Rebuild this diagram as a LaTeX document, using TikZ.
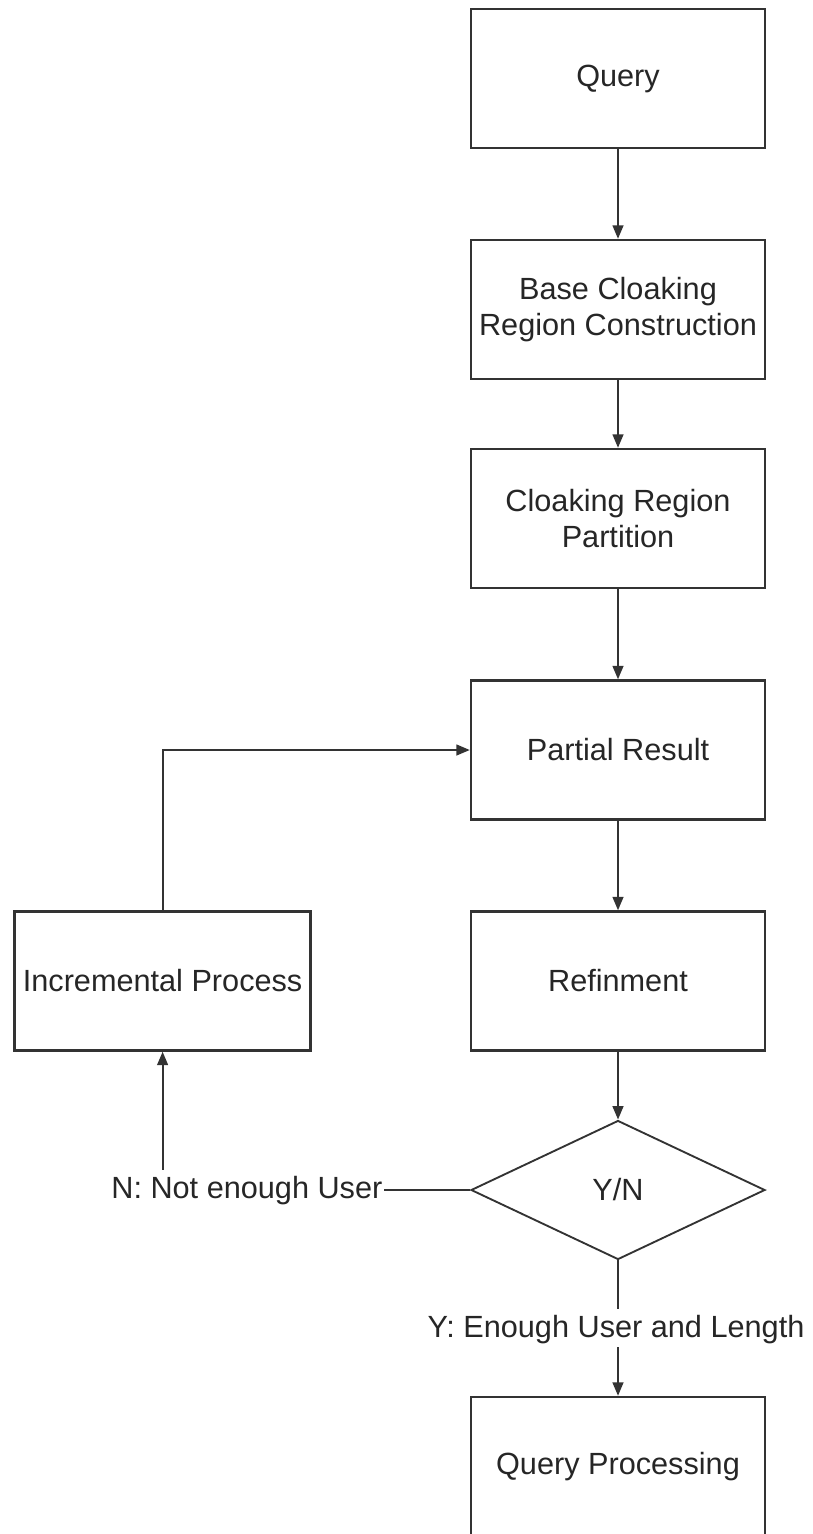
\documentclass[tikz,border=0pt]{standalone}
\usepackage{fontspec}
\setmainfont{Liberation Sans}
\usetikzlibrary{arrows.meta,shapes.geometric}
\begin{document}
\begin{tikzpicture}[x=0.75pt,y=-0.75pt,
  every node/.style={font=\fontsize{23}{27.5}\selectfont, text=black!85},
  stepbox/.style={draw=black!80, line width=1.8pt, minimum width=220.5pt,
    minimum height=104.25pt, inner sep=0pt, align=center},
  decide/.style={draw=black!80, line width=1.4pt, diamond, minimum width=220.5pt,
    minimum height=104.25pt, inner sep=0pt},
  lbl/.style={text height=16.5pt, text depth=1.75pt, inner ysep=5pt, inner xsep=1pt},
  link/.style={draw=black!80, line width=1.5pt},
  arr/.style={link, -{Triangle[length=10pt,width=8pt]}}]
\useasboundingbox (0,0) rectangle (813,1534);

% main column
\node[stepbox] (query)   at (618,78.5)  {Query};
\node[stepbox] (base)    at (618,309.5) {Base Cloaking\\Region Construction};
\node[stepbox] (part)    at (618,518.5) {Cloaking Region\\Partition};
\node[stepbox] (partial) at (618,750)   {Partial Result};
\node[stepbox] (refine)  at (618,981)   {Refinment};
\node[decide]  (yn)      at (618,1190)  {Y/N};
\node[stepbox] (qp)      at (618,1466.5){Query Processing};

% side loop
\node[stepbox, minimum width=222pt] (inc) at (162.6,981) {Incremental Process};

% branch labels
\node[lbl, anchor=east] (nlab) at (384,1189) {N: Not enough User};
\node[lbl] (ylab) at (616,1328) {Y: Enough User and Length};

% connectors
\draw[arr] (query) -- (base);
\draw[arr] (base) -- (part);
\draw[arr] (part) -- (partial);
\draw[arr] (partial) -- (refine);
\draw[arr] (refine) -- (yn);
\draw[link] (yn.west) -- (yn.west -| nlab.east);
\draw[arr] (nlab.north -| inc.south) -- (inc.south);
\draw[arr] (inc.north) |- (partial.west);
\draw[link] (yn.south) -- (ylab.north -| yn.south);
\draw[arr] (ylab.south -| qp.north) -- (qp.north);
\end{tikzpicture}
\end{document}
